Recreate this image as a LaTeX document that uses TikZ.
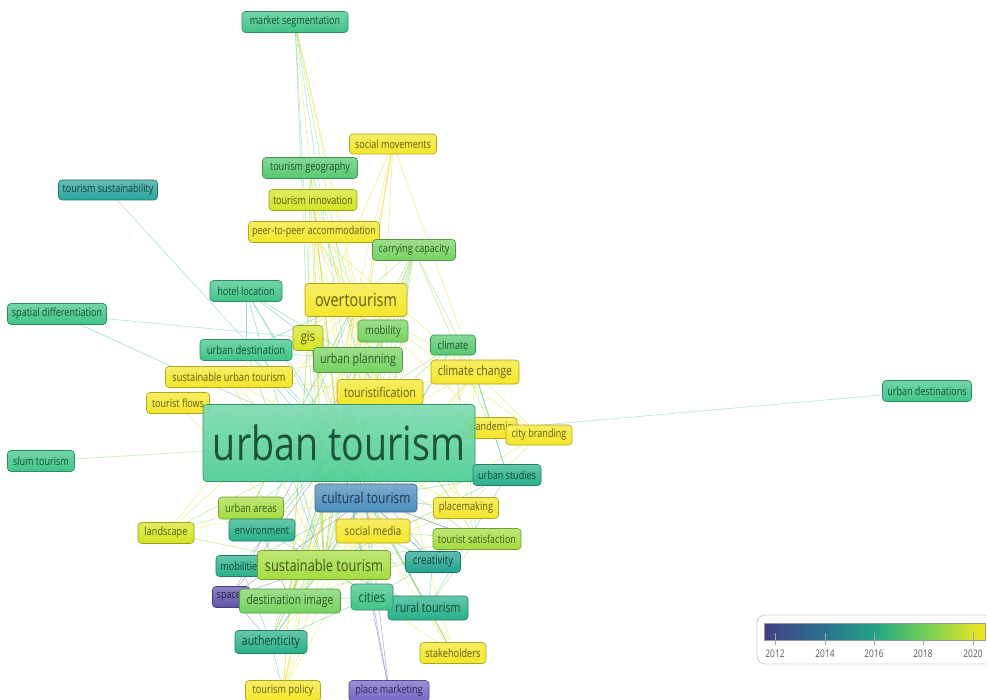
\documentclass[tikz,border=0pt]{standalone}
\usepackage{fontspec}
\setmainfont{Open Sans}[FakeStretch=0.8]
\pgfdeclarelayer{bg}
\pgfsetlayers{bg,main}
\definecolor{cY}{RGB}{244,230,40}
\definecolor{cYG}{RGB}{212,228,36}
\definecolor{cLG}{RGB}{164,220,64}
\definecolor{cG}{RGB}{118,210,96}
\definecolor{cGG}{RGB}{86,200,112}
\definecolor{cTG}{RGB}{62,196,135}
\definecolor{cUT}{RGB}{72,204,148}
\definecolor{cT}{RGB}{40,176,138}
\definecolor{cTT}{RGB}{34,164,142}
\definecolor{cTS}{RGB}{42,164,156}
\definecolor{cB}{RGB}{74,140,188}
\definecolor{cP}{RGB}{116,102,196}
\definecolor{cPP}{RGB}{96,82,170}
\definecolor{edgeY}{RGB}{232,228,60}
\definecolor{edgeG}{RGB}{150,216,90}
\definecolor{edgeT}{RGB}{80,196,150}
\definecolor{edgeC}{RGB}{110,204,204}
\definecolor{edgeP}{RGB}{124,114,204}
\definecolor{v0}{RGB}{67,62,133}
\definecolor{v1}{RGB}{44,114,142}
\definecolor{v2}{RGB}{33,163,134}
\definecolor{v3}{RGB}{110,206,88}
\definecolor{v4}{RGB}{245,230,31}
\newcommand\kwf[1]{\fontsize{#1}{#1}\selectfont}
\begin{document}
\begin{tikzpicture}[x=1pt,y=-1pt,
  kw/.style={draw=#1!72!black, top color=#1!72!white, bottom color=#1,
    rounded corners=3.5pt, line width=0.6pt, text=#1!40!black, inner sep=0pt},
  sz/.style 2 args={minimum width=#1pt, minimum height=#2pt},
  e/.style={line width=0.6pt, opacity=0.55},
  eY/.style={e, draw=edgeY}, eG/.style={e, draw=edgeG},
  eT/.style={e, draw=edgeT}, eC/.style={e, draw=edgeC}, eP/.style={e, draw=edgeP},
  yr/.style={font=\kwf{10.5}, text=black!65}
]
\useasboundingbox (0,0) rectangle (987,700);
\begin{pgfonlayer}{bg}
\fill[white] (0,0) rectangle (987,700);
\end{pgfonlayer}

% keywords
\node[kw=cTG, sz={106}{21}, font=\kwf{11.3}] (ms) at (295,22) {market segmentation};
\node[kw=cY, sz={87}{20}, font=\kwf{11.3}] (sm) at (393,144) {social movements};
\node[kw=cGG, sz={95}{21}, font=\kwf{11.3}] (tg) at (310,168) {tourism geography};
\node[kw=cYG, sz={88}{21}, font=\kwf{11.3}] (ti) at (313,200) {tourism innovation};
\node[kw=cY, sz={131}{21}, font=\kwf{11.3}] (p2p) at (314,232) {peer-to-peer accommodation};
\node[kw=cG, sz={83}{21}, font=\kwf{11.3}] (cc) at (414,250) {carrying capacity};
\node[kw=cTS, sz={99}{20}, font=\kwf{11.3}] (tsu) at (108,190) {tourism sustainability};
\node[kw=cTG, sz={72}{21}, font=\kwf{11.3}] (hl) at (246,291) {hotel location};
\node[kw=cY, sz={102}{33}, font=\kwf{18}] (ot) at (356,300) {overtourism};
\node[kw=cTG, sz={99}{21}, font=\kwf{11.3}] (sd) at (57,314) {spatial differentiation};
\node[kw=cYG, sz={30}{25}, font=\kwf{14}] (gis) at (308,338) {gis};
\node[kw=cG, sz={50}{22}, font=\kwf{11.8}] (mob) at (383,331) {mobility};
\node[kw=cGG, sz={45}{20}, font=\kwf{11.3}] (cl) at (453,345) {climate};
\node[kw=cTG, sz={92}{21}, font=\kwf{11.8}] (ud) at (246,350) {urban destination};
\node[kw=cG, sz={89}{25}, font=\kwf{13.3}] (up) at (358,360) {urban planning};
\node[kw=cY, sz={88}{24}, font=\kwf{13.2}] (cch) at (475,372) {climate change};
\node[kw=cY, sz={127}{21}, font=\kwf{11.5}] (sut) at (229,377) {sustainable urban tourism};
\node[kw=cY, sz={86}{25}, font=\kwf{13.3}] (tf) at (380,392) {touristification};
\node[kw=cY, sz={63}{21}, font=\kwf{11.3}] (tfl) at (178,403) {tourist flows};
\node[kw=cTG, sz={89}{21}, font=\kwf{11.3}] (uds) at (927,391) {urban destinations};
\node[kw=cY, sz={52}{21}, font=\kwf{11.3}] (pan) at (491,428) {pandemic};
\node[kw=cUT, sz={272}{77}, font=\kwf{47}, fill opacity=0.9, text opacity=1] (ut) at (339,443) {urban tourism};
\node[kw=cY, sz={66}{20}, font=\kwf{11.3}] (cb) at (539,435) {city branding};
\node[kw=cTG, sz={67}{21}, font=\kwf{11.3}] (st) at (41,461) {slum tourism};
\node[kw=cT, sz={68}{21}, font=\kwf{11.3}] (us) at (507,475) {urban studies};
\node[kw=cB, sz={102}{28}, font=\kwf{15}] (ct) at (366,498) {cultural tourism};
\node[kw=cLG, sz={65}{22}, font=\kwf{11.5}] (ua) at (251,508) {urban areas};
\node[kw=cY, sz={65}{21}, font=\kwf{11.5}] (pm) at (466,508) {placemaking};
\node[kw=cYG, sz={56}{21}, font=\kwf{11.3}] (ls) at (166,533) {landscape};
\node[kw=cT, sz={66}{22}, font=\kwf{11.3}] (env) at (262,530) {environment};
\node[kw=cY, sz={74}{24}, font=\kwf{12.2}] (smd) at (373,531) {social media};
\node[kw=cLG, sz={88}{21}, font=\kwf{11.3}] (tsa) at (477,539) {tourist satisfaction};
\node[kw=cT, sz={50}{21}, font=\kwf{11.3}] (mbs) at (241,566) {mobilities};
\node[kw=cLG, sz={133}{29}, font=\kwf{16}] (sust) at (324,565) {sustainable tourism};
\node[kw=cTT, sz={55}{21}, font=\kwf{12}] (cre) at (433,562) {creativity};
\node[kw=cPP, sz={37}{21}, font=\kwf{11.3}] (sp) at (231,597) {spaces};
\node[kw=cG, sz={101}{24}, font=\kwf{13}] (di) at (290,601) {destination image};
\node[kw=cT, sz={80}{24}, font=\kwf{13.3}] (rt) at (428,608) {rural tourism};
\node[kw=cTG, sz={42}{26}, font=\kwf{14}] (ci) at (372,597) {cities};
\node[kw=cT, sz={72}{23}, font=\kwf{13.2}] (au) at (271,642) {authenticity};
\node[kw=cY, sz={66}{21}, font=\kwf{11.5}] (sh) at (453,653) {stakeholders};
\node[kw=cY, sz={75}{21}, font=\kwf{11.5}] (tp) at (283,691) {tourism policy};
\node[kw=cP, sz={80}{21}, font=\kwf{11.3}] (pmk) at (389,691) {place marketing};

% legend
\draw[rounded corners=8pt, draw=black!18, line width=0.9pt] (757,615) rectangle (1000,664);
\shade[left color=v0, right color=v1] (764,623) rectangle (825,640);
\shade[left color=v1, right color=v2] (825,623) rectangle (874,640);
\shade[left color=v2, right color=v3] (874,623) rectangle (923,640);
\shade[left color=v3, right color=v4] (923,623) rectangle (985,640);
\draw[black!40, line width=0.6pt] (764,623) rectangle (985,640);
\foreach \xx/\yy in {775/2012, 825/2014, 874/2016, 923/2018, 973/2020}{
  \draw[black!35, line width=0.7pt] (\xx,633) -- (\xx,645);
  \node[yr] (y\yy) at (\xx,654) {\yy};
}

% connectors
\begin{pgfonlayer}{bg}
\foreach \a/\b in {ut/ms, ut/sm, ut/ti, ut/p2p, ut/ot, ut/cch, ut/sut, ut/tf, ut/tfl, ut/cb, ut/pm, ut/smd, ut/sh, ut/tp, ut/pan,
  ms/ot, ms/tf, sm/ot, sm/tf, sm/cch, sm/gis, sm/up, sm/sust, ti/ot, ti/sust, ti/tf, ti/smd, p2p/ot, p2p/tf, p2p/smd, p2p/sust, p2p/cch, p2p/pm,
  ot/up, ot/tf, ot/sust, ot/cch, ot/smd, ot/pm, ot/di, ot/au, ot/tp, ot/sh, ot/cb, ot/pan, ot/ct,
  cch/sust, cch/pm, cch/smd, cch/ct, cch/tf, sut/sust, sut/up, sut/tf, sut/smd, tf/sust, tf/smd, tf/cb, tf/pm, tf/di, tf/au,
  tfl/sust, tfl/ot, pan/sust, pan/cch, pan/tf, cb/sust, cb/pm, cb/cch, smd/sust, smd/di, smd/au, pm/sust, pm/smd, sh/sust, sh/ct, sh/smd,
  tp/sust, tp/ct, tp/di, tp/smd, ls/ct, ls/up, gis/tp, ot/ls, tf/tsa, gis/ot, gis/smd, gis/tf, up/tp}
  \draw[eY] (\a.center) -- (\b.center);
\foreach \a/\b in {ut/tg, ut/cc, ut/gis, ut/mob, ut/cl, ut/up, ut/ua, ut/ls, ut/tsa, ut/sust, ut/di, ut/st,
  ms/up, ms/sust, tg/gis, tg/up, tg/ot, cc/ot, cc/sust, cc/cch, cc/tf, cc/ct, cc/pan, cc/up, cc/smd, gis/sust, gis/up, gis/ct, gis/di,
  mob/sust, mob/ct, mob/up, mob/tf, cl/cch, cl/sust, cl/tsa, cl/tf, up/sust, up/ct, up/di, up/tf,
  ua/sust, ua/di, ua/ls, ls/sust, smd/tsa, tsa/sust, tsa/cre, tsa/rt, di/sust, di/ci,
  ot/ua, up/tsa, cc/di, mob/di, tg/sust, ua/ot, di/tsa, tsa/pm}
  \draw[eG] (\a.center) -- (\b.center);
\foreach \a/\b in {ut/hl, ut/sd, ut/ud, ut/us, ut/env, ut/mbs, ut/cre, ut/rt, ut/ci, ut/au,
  hl/ud, hl/sust, hl/gis, hl/up, ud/sust, ud/ct, ud/ot, us/sust, us/ct, us/rt, env/sust, env/di, mbs/sust, mbs/au, mbs/ct,
  cre/sust, cre/ci, cre/rt, cre/smd, rt/sust, rt/sh, ci/sust, ci/au, au/sust, au/tp, di/au, ct/au,
  ct/rt, ct/ci, cl/ct, env/ot, cch/us, us/cch, ci/ct}
  \draw[eT] (\a.center) -- (\b.center);
\foreach \a/\b in {ut/tsu, ut/uds, ms/gis, ct/sust, ct/di, ct/cre, ct/tsa, ct/pm, hl/ct, ud/up, sd/gis, ms/ct}
  \draw[eC] (\a.center) -- (\b.center);
\foreach \a/\b in {ut/sp, ut/pmk, sp/sust, sp/ct, ci/pmk, pmk/ct, ct/tsa, sp/au, sp/up, ct/cre}
  \draw[eP] (\a.center) -- (\b.center);
\end{pgfonlayer}
\end{tikzpicture}
\end{document}
